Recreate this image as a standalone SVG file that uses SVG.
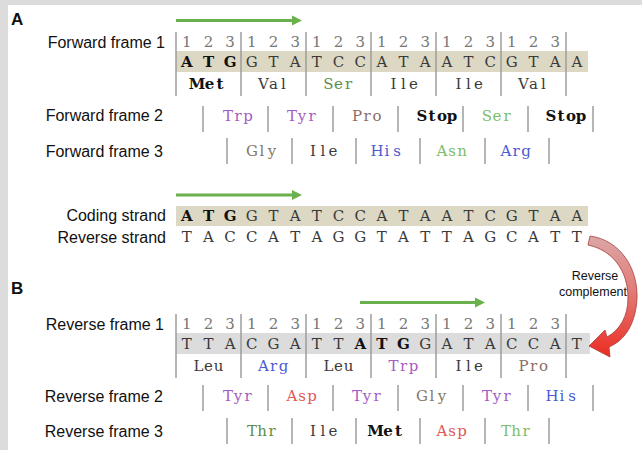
<svg xmlns="http://www.w3.org/2000/svg" width="642" height="450" viewBox="0 0 642 450">
<defs>
<style>
.lbl{font-family:"Liberation Sans",Arial,sans-serif;font-size:16px;fill:#111;text-anchor:end}
.pl{font-family:"Liberation Sans",Arial,sans-serif;font-size:17px;font-weight:bold;fill:#111}
.m{font-family:"DejaVu Serif","Liberation Serif",serif;font-size:15px;text-anchor:middle;fill:#3a3a3a}
.num{fill:#777}
.b{font-weight:bold;fill:#111}
.sep{stroke:#9c9c9c;stroke-width:1.5}
.garr{stroke:#6ab04c;stroke-width:3;fill:none}
.ghead{fill:#6ab04c}
.rc{font-family:"Liberation Sans",Arial,sans-serif;font-size:12.5px;fill:#111;text-anchor:middle}
.c-gray{fill:#3a3a3a}.c-green{fill:#5a8f4a}.c-lgreen{fill:#7dbd6a}.c-purple{fill:#a55cc4}.c-brown{fill:#8c6e64}
.c-gb{fill:#857868}.c-blue{fill:#4b5bd0}.c-red{fill:#e05a55}
</style>
<linearGradient id="rg" x1="0" y1="0" x2="0" y2="1">
<stop offset="0" stop-color="#dba7a7"/>
<stop offset="0.45" stop-color="#e27c78"/>
<stop offset="1" stop-color="#ec2b22"/>
</linearGradient>
</defs>
<rect x="0" y="0" width="642" height="450" fill="#ffffff"/>
<rect x="0" y="0" width="642" height="5" fill="#dcdcdc"/>
<rect x="0" y="0" width="8" height="450" fill="#dcdcdc"/>

<g id="panel-labels">
<text class="pl" x="11" y="25">A</text>
<text class="pl" x="11" y="294">B</text>
</g>

<g id="forward-frame-1">
<rect x="176" y="51" width="412" height="21" fill="#dcd8c4"/>
<text class="lbl" x="165" y="48">Forward frame 1</text>
<text class="m num" y="47" x="186.8 208.5 230.1 251.8 273.5 295.2 316.8 338.5 360.2 381.8 403.5 425.2 446.8 468.5 490.2 511.8 533.5 555.2">123123123123123123</text>
<text class="m" y="67"><tspan class="b" x="186.8 208.5 230.1">ATG</tspan><tspan x="251.8 273.5 295.2 316.8 338.5 360.2 381.8 403.5 425.2 446.8 468.5 490.2 511.8 533.5 555.2 576.8">GTATCCATAATCGTAA</tspan></text>
<g class="sep"><line x1="176" y1="32" x2="176" y2="96"/><line x1="241" y1="32" x2="241" y2="96"/><line x1="306" y1="32" x2="306" y2="96"/><line x1="371" y1="32" x2="371" y2="96"/><line x1="436" y1="32" x2="436" y2="96"/><line x1="501" y1="32" x2="501" y2="96"/><line x1="566" y1="32" x2="566" y2="96"/></g>
<text class="m b" x="197 209.5 220" y="89">Met</text>
<text class="m c-gray" x="263.5 273.5 283.5" y="89">Val</text>
<text class="m c-green" x="328.5 338.5 348.5" y="89">Ser</text>
<text class="m c-gray" x="393.5 403.5 413.5" y="89">Ile</text>
<text class="m c-gray" x="458.5 468.5 478.5" y="89">Ile</text>
<text class="m c-gray" x="523.5 533.5 543.5" y="89">Val</text>
</g>

<g id="forward-frame-2">
<text class="lbl" x="163" y="121">Forward frame 2</text>
<g class="sep"><line x1="203" y1="106" x2="203" y2="132"/><line x1="268" y1="106" x2="268" y2="132"/><line x1="333" y1="106" x2="333" y2="132"/><line x1="398" y1="106" x2="398" y2="132"/><line x1="463" y1="106" x2="463" y2="132"/><line x1="528" y1="106" x2="528" y2="132"/><line x1="593" y1="106" x2="593" y2="132"/></g>
<text class="m c-purple" x="228 238 248" y="121">Trp</text>
<text class="m c-purple" x="292 302 312" y="121">Tyr</text>
<text class="m c-brown" x="357 367 377" y="121">Pro</text>
<text class="m b" x="422 432 442 452" y="121">Stop</text>
<text class="m c-lgreen" x="487 497 507" y="121">Ser</text>
<text class="m b" x="551 561 571 581" y="121">Stop</text>
</g>

<g id="forward-frame-3">
<text class="lbl" x="163" y="157">Forward frame 3</text>
<g class="sep"><line x1="227" y1="138" x2="227" y2="164"/><line x1="292" y1="138" x2="292" y2="164"/><line x1="356" y1="138" x2="356" y2="164"/><line x1="420" y1="138" x2="420" y2="164"/><line x1="485" y1="138" x2="485" y2="164"/><line x1="549" y1="138" x2="549" y2="164"/></g>
<text class="m c-gb" x="252 262 272" y="156">Gly</text>
<text class="m c-gray" x="313 323 333" y="156">Ile</text>
<text class="m c-blue" x="377 387 397" y="156">His</text>
<text class="m c-lgreen" x="442 452 462" y="156">Asn</text>
<text class="m c-blue" x="506 516 526" y="156">Arg</text>
</g>

<g id="coding-strand">
<rect x="176" y="206" width="412" height="20" fill="#dcd8c4"/>
<text class="lbl" x="166" y="221">Coding strand</text>
<text class="m" y="221"><tspan class="b" x="186.8 208.5 230.1">ATG</tspan><tspan x="251.8 273.5 295.2 316.8 338.5 360.2 381.8 403.5 425.2 446.8 468.5 490.2 511.8 533.5 555.2 576.8">GTATCCATAATCGTAA</tspan></text>
</g>

<g id="reverse-strand">
<text class="lbl" x="166" y="243">Reverse strand</text>
<text class="m" y="242" x="186.8 208.5 230.1 251.8 273.5 295.2 316.8 338.5 360.2 381.8 403.5 425.2 446.8 468.5 490.2 511.8 533.5 555.2 576.8">TACCATAGGTATTAGCATT</text>
</g>

<g id="reverse-complement-label">
<text class="rc" x="595" y="280">Reverse</text>
<text class="rc" x="593" y="296">complement</text>
</g>

<g id="reverse-frame-1">
<rect x="176" y="333" width="414" height="21" fill="#dcdcdc"/>
<text class="lbl" x="164" y="330">Reverse frame 1</text>
<text class="m num" y="329" x="186.8 208.5 230.1 251.8 273.5 295.2 316.8 338.5 360.2 381.8 403.5 425.2 446.8 468.5 490.2 511.8 533.5 555.2">123123123123123123</text>
<text class="m" y="349"><tspan x="186.8 208.5 230.1 251.8 273.5 295.2 316.8 338.5">TTACGATT</tspan><tspan class="b" x="360.2 381.8 403.5">ATG</tspan><tspan x="425.2 446.8 468.5 490.2 511.8 533.5 555.2 576.8">GATACCAT</tspan></text>
<g class="sep"><line x1="176" y1="314" x2="176" y2="378"/><line x1="241" y1="314" x2="241" y2="378"/><line x1="306" y1="314" x2="306" y2="378"/><line x1="371" y1="314" x2="371" y2="378"/><line x1="436" y1="314" x2="436" y2="378"/><line x1="501" y1="314" x2="501" y2="378"/><line x1="566" y1="314" x2="566" y2="378"/></g>
<text class="m c-gray" x="198.5 208.5 218.5" y="371">Leu</text>
<text class="m c-blue" x="263.5 273.5 283.5" y="371">Arg</text>
<text class="m c-gray" x="328.5 338.5 348.5" y="371">Leu</text>
<text class="m c-purple" x="393.5 403.5 413.5" y="371">Trp</text>
<text class="m c-gray" x="458.5 468.5 478.5" y="371">Ile</text>
<text class="m c-brown" x="523.5 533.5 543.5" y="371">Pro</text>
</g>

<g id="reverse-frame-2">
<text class="lbl" x="163" y="402">Reverse frame 2</text>
<g class="sep"><line x1="203" y1="385" x2="203" y2="411"/><line x1="268" y1="385" x2="268" y2="411"/><line x1="333" y1="385" x2="333" y2="411"/><line x1="398" y1="385" x2="398" y2="411"/><line x1="463" y1="385" x2="463" y2="411"/><line x1="528" y1="385" x2="528" y2="411"/><line x1="593" y1="385" x2="593" y2="411"/></g>
<text class="m c-purple" x="228 238 248" y="401">Tyr</text>
<text class="m c-red" x="292 302 312" y="401">Asp</text>
<text class="m c-purple" x="357 367 377" y="401">Tyr</text>
<text class="m c-gb" x="422 432 442" y="401">Gly</text>
<text class="m c-purple" x="487 497 507" y="401">Tyr</text>
<text class="m c-blue" x="552 562 572" y="401">His</text>
</g>

<g id="reverse-frame-3">
<text class="lbl" x="163" y="437">Reverse frame 3</text>
<g class="sep"><line x1="227" y1="418" x2="227" y2="444"/><line x1="292" y1="418" x2="292" y2="444"/><line x1="356" y1="418" x2="356" y2="444"/><line x1="420" y1="418" x2="420" y2="444"/><line x1="485" y1="418" x2="485" y2="444"/><line x1="549" y1="418" x2="549" y2="444"/></g>
<text class="m c-green" x="252 262 272" y="436">Thr</text>
<text class="m c-gray" x="313 323 333" y="436">Ile</text>
<text class="m b" x="375.5 388 398.5" y="436">Met</text>
<text class="m c-red" x="442 452 462" y="436">Asp</text>
<text class="m c-lgreen" x="506 516 526" y="436">Thr</text>
</g>

<g id="connectors">
<line class="garr" x1="176" y1="20.5" x2="293" y2="20.5"/><polygon class="ghead" points="292,15.5 302,20.5 292,25.5"/>
<line class="garr" x1="176" y1="195" x2="293" y2="195"/><polygon class="ghead" points="292,190 302,195 292,200"/>
<line class="garr" x1="360" y1="302.5" x2="476" y2="302.5"/><polygon class="ghead" points="475,297.5 485,302.5 475,307.5"/>
<path d="M 590,236 C 620,240 638,268 637,298 C 636,322 626,340 609,347 L 610,357 L 589,346 L 605,330 L 607,337 C 620,330 628,316 628,298 C 628,270 612,250 588,245 Z" fill="url(#rg)" stroke="#a3403c" stroke-width="0.8"/>
</g>
</svg>
